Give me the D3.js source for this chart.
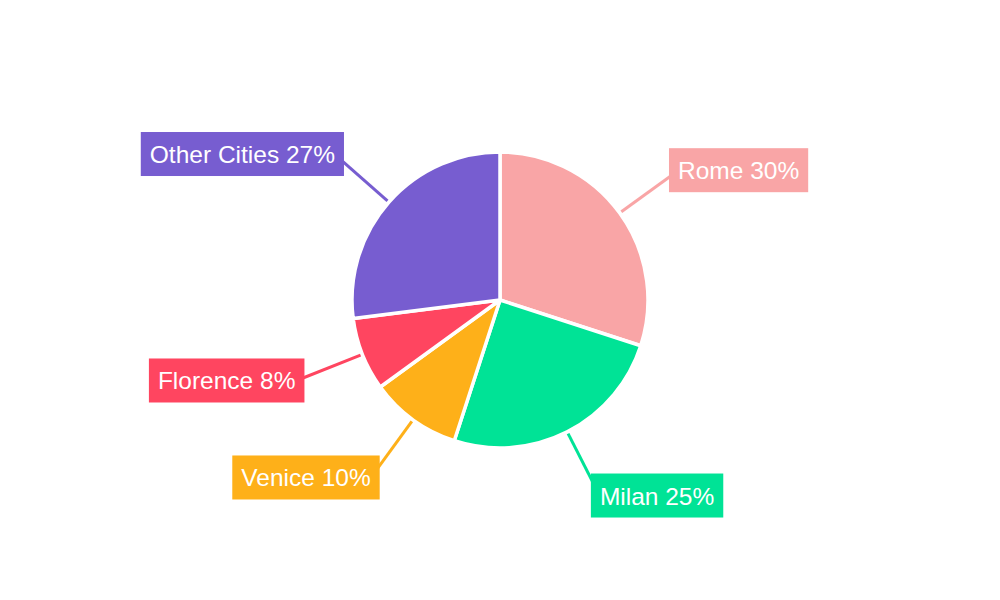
<!DOCTYPE html>
<html>
<head>
<meta charset="utf-8">
<script src="https://cdn.jsdelivr.net/npm/d3@7"></script>
<style>
  html, body { margin: 0; padding: 0; background: #fff; }
  svg { display: block; }
</style>
</head>
<body>
<div id="chart"></div>
<script>
/* ---- Data ---- */
const cities = ['Rome', 'Milan', 'Venice', 'Florence', 'Other Cities'];
const shares = [30, 25, 10, 8, 27];
const colors = ['#f9a5a6', '#00e396', '#feb019', '#ff4560', '#775dd0'];

/* ---- Layout ---- */
const W = 1000, H = 600;
const cx = 500, cy = 300;
const R = 148;
const lineStart = 150, labelR = 220;

const svg = d3.select('#chart').append('svg')
  .attr('width', W).attr('height', H);

const g = svg.append('g').attr('transform', `translate(${cx},${cy})`);

const color = d3.scaleOrdinal().domain(cities).range(colors);

const pie = d3.pie().sort(null).value(d => d.value);
const arcs = pie(cities.map((c, i) => ({ name: c, value: shares[i] })));

const arcGen = d3.arc().innerRadius(0).outerRadius(R);

g.append('g').selectAll('path')
  .data(arcs)
  .join('path')
    .attr('d', arcGen)
    .attr('fill', d => color(d.data.name))
    .attr('stroke', '#fff')
    .attr('stroke-width', 3.5)
    .attr('stroke-linejoin', 'round');

function pointAt(a, r) {
  return [Math.sin(a) * r, -Math.cos(a) * r];
}

/* ---- Leader lines ---- */
g.append('g').selectAll('line')
  .data(arcs)
  .join('line')
    .attr('x1', d => pointAt((d.startAngle + d.endAngle) / 2, lineStart)[0])
    .attr('y1', d => pointAt((d.startAngle + d.endAngle) / 2, lineStart)[1])
    .attr('x2', d => pointAt((d.startAngle + d.endAngle) / 2, labelR)[0])
    .attr('y2', d => pointAt((d.startAngle + d.endAngle) / 2, labelR)[1])
    .attr('stroke', d => color(d.data.name))
    .attr('stroke-width', 3);

/* ---- Labels with boxes ---- */
const labels = g.append('g').selectAll('g')
  .data(arcs)
  .join('g');

labels.each(function (d) {
  const mid = (d.startAngle + d.endAngle) / 2;
  const [x, y] = pointAt(mid, labelR);
  const right = Math.sin(mid) > 0;
  const grp = d3.select(this);
  const rect = grp.append('rect').attr('fill', color(d.data.name));
  const text = grp.append('text')
    .attr('x', x)
    .attr('y', y)
    .attr('text-anchor', right ? 'start' : 'end')
    .attr('dominant-baseline', 'central')
    .attr('fill', '#fff')
    .style('font-family', '"Liberation Sans", Arial, sans-serif')
    .style('font-size', '24.5px')
    .text(`${d.data.name} ${d.data.value}%`);
  const bb = text.node().getBBox();
  const padX = 9;
  const h = 44;
  rect.attr('x', bb.x - padX)
    .attr('y', y - h / 2 - 0.5)
    .attr('width', bb.width + padX * 2)
    .attr('height', h);
});
</script>
</body>
</html>
